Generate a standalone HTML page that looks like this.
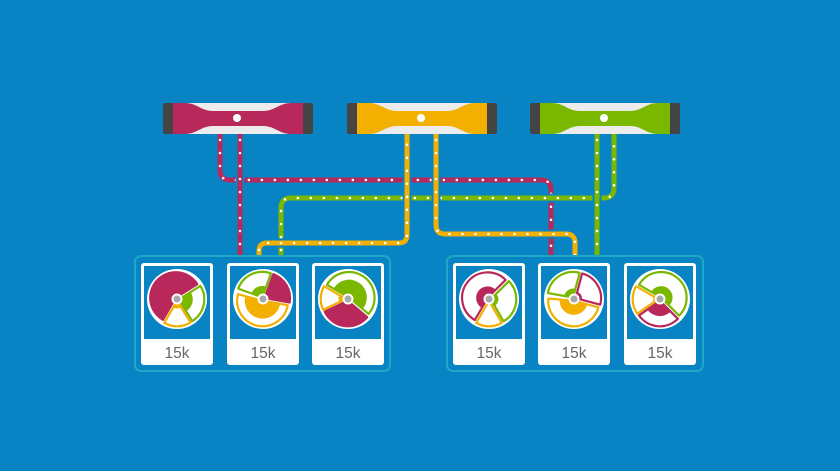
<!DOCTYPE html>
<html><head><meta charset="utf-8"><style>
html,body{margin:0;padding:0;background:#0883c4;}
svg{display:block}
</style></head><body>
<svg id="s" width="840" height="471" viewBox="0 0 840 471" xmlns="http://www.w3.org/2000/svg">
<rect width="840" height="471" fill="#0883c4"/>
<g id="lines" fill="none" stroke-width="5"></g>
<g id="servers"></g>
<rect x="135" y="256" width="255" height="115" rx="6" fill="#0883c4" stroke="#1fa8c6" stroke-width="2"/>
<rect x="447" y="256" width="256" height="115" rx="6" fill="#0883c4" stroke="#1fa8c6" stroke-width="2"/>
<g id="cards"></g>
</svg>
<script>
const NS="http://www.w3.org/2000/svg";
const M="#b9285a",Y="#f3b000",G="#7ab800";
function el(t,a,p){const e=document.createElementNS(NS,t);for(const k in a)e.setAttribute(k,a[k]);p.appendChild(e);return e;}
const L=document.getElementById('lines');
const paths=[
 [M,"M220,134 L220,170 Q220,180 230,180 L541,180 Q551,180 551,190 L551,256"],
 [G,"M281,256 L281,208 Q281,198 291,198 L604,198 Q614,198 614,188 L614,134"],
 [Y,"M259,256 L259,251 Q259,243 267,243 L399,243 Q407,243 407,235 L407,134"],
 [Y,"M436,134 L436,225 Q436,234 445,234 L566,234 Q575,234 575,243 L575,256"],
 [M,"M240,134 L240,256"],
 [G,"M597,134 L597,256"]
];
paths.forEach(([c,d])=>{
 el('path',{d:d,stroke:"#0883c4","stroke-width":9},L);
 el('path',{d:d,stroke:c},L);
 el('path',{d:d,stroke:"#fff","stroke-width":2.6,"stroke-linecap":"round","stroke-dasharray":"0 13","stroke-dashoffset":"-6"},L);
});
const S=document.getElementById('servers');
[[163,M],[347,Y],[530,G]].forEach(([x,c])=>{
 el('rect',{x:x,y:103,width:150,height:31,rx:2,fill:"#444"},S);
 el('rect',{x:x+10,y:103,width:130,height:31,fill:c},S);
 el('path',{d:`M${x+22},103 C${x+34},103 ${x+38},111 ${x+50},111 L${x+100},111 C${x+112},111 ${x+116},103 ${x+128},103 Z`,fill:"#ececec"},S);
 el('path',{d:`M${x+22},134 C${x+34},134 ${x+38},126 ${x+50},126 L${x+100},126 C${x+112},126 ${x+116},134 ${x+128},134 Z`,fill:"#ececec"},S);
 el('circle',{cx:x+74,cy:118,r:4,fill:"#fff"},S);
});
const C=document.getElementById('cards');
function pt(cx,cy,r,a){a=a*Math.PI/180;return [cx+r*Math.sin(a),cy-r*Math.cos(a)];}
function sector(cx,cy,r,a0,a1){let span=a1-a0;if(span<0)span+=360;const p0=pt(cx,cy,r,a0),p1=pt(cx,cy,r,a0+span);
 return `M${cx},${cy} L${p0[0]},${p0[1]} A${r},${r} 0 ${span>180?1:0} 1 ${p1[0]},${p1[1]} Z`;}
const discs=[
 [[210,58,M,1],[58,148,G,0.55],[148,210,Y,0.3]],
 [[290,20,G,0.45],[20,100,M,1],[100,285,Y,0.7]],
 [[300,130,G,0.7],[130,245,M,1],[245,300,Y,0.3]],
 [[210,45,M,0.45],[45,150,G,0.3],[150,210,Y,0.08]],
 [[280,15,G,0.35],[15,105,M,0.25],[105,275,Y,0.55]],
 [[300,135,G,0.45],[135,235,M,0.6],[235,300,Y,0.2]]
];
[141,227,312,453,538,624].forEach((x,i)=>{
 el('rect',{x:x,y:263,width:72,height:102,rx:3,fill:"#fff"},C);
 el('rect',{x:x+3,y:266,width:66,height:73,fill:"#0883c4"},C);
 const cx0=x+36,cy0=299;
 el('circle',{cx:cx0,cy:cy0,r:30,fill:"#fff"},C);
 const r=25.5;
 discs[i].forEach(([a0,a1,c,f])=>{
   let span=a1-a0;if(span<0)span+=360;
   const mid=a0+span/2;const o=pt(0,0,1.8,mid);
   const cx=cx0+o[0],cy=cy0+o[1];
   const g=el('g',{},C);
   el('path',{d:sector(cx,cy,r,a0,a1),fill:f>=1?c:"#fff",stroke:c,"stroke-width":2.2,"stroke-linejoin":"round"},g);
   if(f<1&&f>0.1) el('path',{d:sector(cx,cy,r*f,a0,a1),fill:c},g);
 });
 el('circle',{cx:cx0,cy:cy0,r:5.5,fill:"#fff"},C);
 el('circle',{cx:cx0,cy:cy0,r:3.5,fill:"#a8a8a8"},C);
 const t=el('text',{x:cx0,y:358,"text-anchor":"middle","font-family":"Liberation Sans, sans-serif","font-size":"15.5",fill:"#666"},C);
 t.textContent="15k";
});
</script>
</body></html>
